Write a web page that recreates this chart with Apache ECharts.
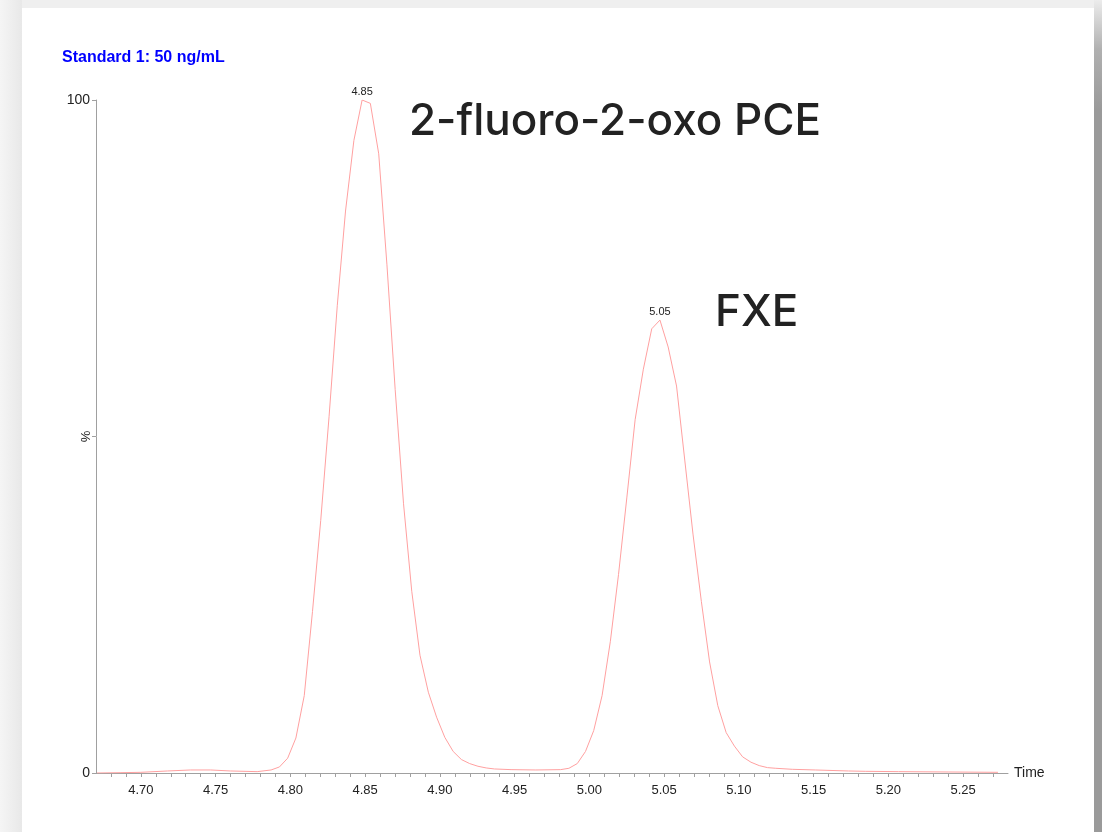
<!DOCTYPE html>
<html>
<head>
<meta charset="utf-8">
<title>Standard 1: 50 ng/mL</title>
<script src="https://cdn.jsdelivr.net/npm/echarts/dist/echarts.min.js"></script>
<style>
  html, body { margin: 0; padding: 0; width: 1102px; height: 832px; overflow: hidden; background: #efefef; }
  .side { position: absolute; left: 0; top: 0; width: 22px; height: 832px; background: linear-gradient(to right, #f5f5f5, #e8e8e8); }
  .card { position: absolute; left: 22px; top: 8px; width: 1072px; height: 824px; background: #fff; }
  .edge { position: absolute; left: 1094px; top: 0; width: 8px; height: 832px; background: linear-gradient(to bottom, #ececec 0px, #b0b0b0 50px, #9a9a9a 110px); }
  #chart { position: absolute; left: 0; top: 0; width: 1102px; height: 832px; }
</style>
</head>
<body>
<div class="side"></div>
<div class="card"></div>
<div class="edge"></div>
<div id="chart"></div>
<script>
// retention time (min)
const times = [
  4.6707, 4.6867, 4.7000, 4.7178, 4.7333, 4.7467, 4.7600, 4.7778, 4.7871, 4.7927,
  4.7982, 4.8037, 4.8093, 4.8148, 4.8203, 4.8259, 4.8314, 4.8369, 4.8425, 4.8480,
  4.8535, 4.8591, 4.8646, 4.8701, 4.8757, 4.8812, 4.8867, 4.8923, 4.8978, 4.9033,
  4.9089, 4.9144, 4.9199, 4.9255, 4.9310, 4.9365, 4.9476, 4.9642, 4.9808, 4.9863,
  4.9919, 4.9974, 5.0029, 5.0085, 5.0140, 5.0195, 5.0251, 5.0306, 5.0361, 5.0417,
  5.0472, 5.0527, 5.0583, 5.0638, 5.0693, 5.0749, 5.0804, 5.0859, 5.0915, 5.0970,
  5.1025, 5.1081, 5.1136, 5.1191, 5.1247, 5.1357, 5.1511, 5.1733, 5.1845, 5.2067,
  5.2400, 5.2733
]
// relative intensity (%)
const intensity = [
  0.0, 0.05, 0.1, 0.3, 0.45, 0.45, 0.3, 0.2, 0.45, 0.9,
  2.2, 5.2, 11.5, 24, 37.5, 53, 69.5, 83.5, 94, 100,
  99.5, 92, 75.5, 57, 40, 27, 17.5, 12, 8.3, 5.3,
  3.2, 2.0, 1.4, 1.0, 0.75, 0.6, 0.5, 0.45, 0.5, 0.7,
  1.4, 3.2, 6.3, 11.5, 19.5, 29.5, 41, 52.5, 60, 66,
  67.3, 63.3, 57.5, 46.5, 35.5, 25.5, 16.5, 10, 6, 4,
  2.4, 1.6, 1.1, 0.8, 0.7, 0.55, 0.45, 0.3, 0.25, 0.2,
  0.15, 0.1
]
const yTicks = [0, 50, 100]
const yTickLabels = ['0', '', '100']
const xLabelStep = 5 // label every 0.05 min, tick every 0.01

const chart = echarts.init(document.getElementById('chart'))

// peak apex labels: local maxima above 50 %
const apexPoints = []
for (let i = 1; i < intensity.length - 1; i++) {
  if (intensity[i] > 50 && intensity[i] >= intensity[i - 1] && intensity[i] > intensity[i + 1]) {
    apexPoints.push({ coord: [times[i], intensity[i]], value: times[i].toFixed(2) })
  }
}

const axisFont = { fontFamily: 'Liberation Sans, Arial, sans-serif', fontSize: 13, color: '#222' }

const option = {
  animation: false,
  backgroundColor: 'transparent',
  title: {
    text: 'Standard 1: 50 ng/mL',
    left: 62,
    top: 50,
    padding: 0,
    textStyle: {
      color: '#0000ff',
      fontSize: 16,
      fontWeight: 'bold',
      fontFamily: 'Liberation Sans, Arial, sans-serif',
    },
  },
  grid: {
    left: 96,
    right: 94,
    top: 100,
    bottom: 59,
  },
  xAxis: {
    type: 'value',
    min: 4.67,
    max: 5.28,
    interval: 0.01,
    name: 'Time',
    nameLocation: 'end',
    nameGap: 6,
    nameTextStyle: { ...axisFont, fontSize: 14 },
    axisLine: { lineStyle: { color: '#a0a0a0', width: 1 } },
    axisTick: { length: 4, lineStyle: { color: '#a0a0a0' } },
    axisLabel: {
      ...axisFont,
      margin: 11,
      showMinLabel: false,
      showMaxLabel: false,
      formatter: (v) => {
        const n = Math.round(v * 100)
        return n % xLabelStep === 0 ? (n / 100).toFixed(2) : ''
      },
    },
    splitLine: { show: false },
  },
  yAxis: {
    type: 'value',
    min: yTicks[0],
    max: yTicks[yTicks.length - 1],
    interval: yTicks[1] - yTicks[0],
    name: '%',
    nameLocation: 'middle',
    nameGap: 3,
    nameMoveOverlap: false,
    nameTextStyle: axisFont,
    axisLine: { show: true, lineStyle: { color: '#a0a0a0', width: 1 } },
    axisTick: { show: true, length: 4, lineStyle: { color: '#a0a0a0' } },
    axisLabel: {
      ...axisFont,
      fontSize: 14,
      margin: 6,
      formatter: (v) => yTickLabels[yTicks.indexOf(v)] ?? '',
    },
    splitLine: { show: false },
  },
  series: [{
    type: 'line',
    data: times.map((t, i) => [t, intensity[i]]),
    showSymbol: false,
    smooth: false,
    lineStyle: { color: '#ffa0a0', width: 1 },
    markPoint: {
      symbol: 'circle',
      symbolSize: 1,
      itemStyle: { color: 'rgba(0,0,0,0)' },
      label: {
        show: true,
        position: 'top',
        distance: 2,
        formatter: '{c}',
        fontFamily: 'Liberation Sans, Arial, sans-serif',
        fontSize: 11,
        color: '#222',
      },
      data: apexPoints,
    },
  }],
  graphic: [
    {
      type: 'text',
      left: 409,
      top: 100,
      style: {
        text: '2-fluoro-2-oxo PCE',
        font: '500 44px Inter, "Noto Sans", sans-serif',
        fill: '#222',
      },
    },
    {
      type: 'text',
      left: 715,
      top: 291,
      style: {
        text: 'FXE',
        font: '500 44px Inter, "Noto Sans", sans-serif',
        fill: '#222',
      },
    },
  ],
}

chart.setOption(option)
</script>
</body>
</html>
